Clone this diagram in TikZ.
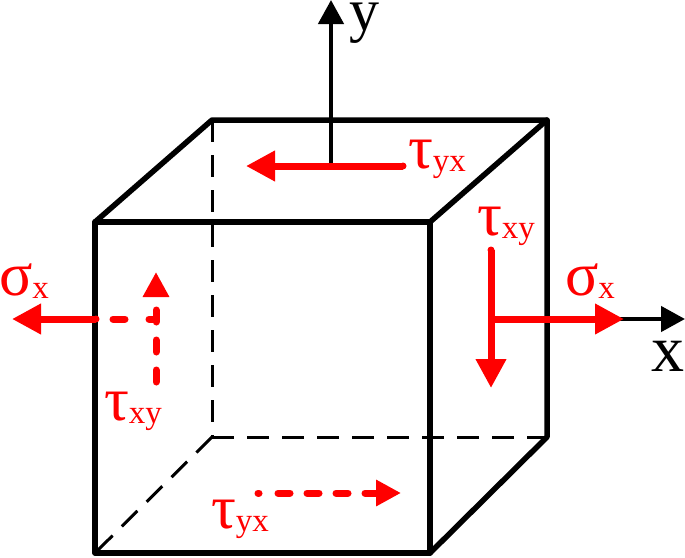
\documentclass[tikz,border=0pt]{standalone}
\usepackage{fontspec}
\setmainfont{Liberation Serif}
\usetikzlibrary{arrows.meta}
\newcommand{\stresslbl}[2]{\fontsize{62}{62}\selectfont #1\kern0pt\raisebox{-3pt}{\fontsize{33}{33}\selectfont #2}}
\tikzset{
  solidedge/.style={draw=black,line width=5.5pt,line join=round,line cap=round},
  hiddenedge/.style={draw=black,line width=3pt,dash pattern=on 22pt off 13pt},
  axisarrow/.style={draw=black,line width=4.5pt,-{Triangle[length=24pt,width=25pt,sep=0pt]}},
  stressarrow/.style={draw=red,line width=7pt,line cap=butt,-{Triangle[length=29pt,width=29pt]}},
  lbl/.style={anchor=base west,inner sep=0pt,outer sep=0pt,text=red},
  axislbl/.style={anchor=base west,inner sep=0pt,outer sep=0pt,text=black}
}
\begin{document}
\begin{tikzpicture}[x=1pt,y=-1pt]
\useasboundingbox (0,0) rectangle (685,557);
% corners
\coordinate (A) at (95,222);
\coordinate (B) at (430,222);
\coordinate (C) at (430,553);
\coordinate (D) at (95,553);
\coordinate (E) at (212,120);
\coordinate (F) at (547,120);
\coordinate (G) at (547,437);
\coordinate (H) at (212,437);
% hidden edges
\draw[hiddenedge] (E) -- (H);
\draw[hiddenedge] (H) -- (G);
\draw[hiddenedge] (H) -- (D);
% axes
\coordinate (yorig) at (331,164);
\coordinate (ytip) at (331,0);
\coordinate (xorig) at (610,319);
\coordinate (xtip) at (685,319);
\draw[axisarrow] (yorig) -- (ytip);
\draw[axisarrow] (xorig) -- (xtip);
% cube
\draw[solidedge] (A) -- (B) -- (C) -- (D) -- cycle;
\draw[solidedge] (A) -- (E) -- (F) -- (B);
\draw[solidedge] (F) -- (G) -- (C);
% solid stress arrows
\coordinate (sxr0) at (491,319);
\coordinate (sxr1) at (624,319);
\coordinate (txr0) at (491,250);
\coordinate (txr1) at (491,388);
\coordinate (sxl0) at (96,319);
\coordinate (sxl1) at (12,319);
\coordinate (tyt0) at (403,166);
\coordinate (tyt1) at (246,166);
\draw[stressarrow] (sxr0) -- (sxr1);
\draw[stressarrow] (txr0) -- (txr1);
\draw[stressarrow] (sxl0) -- (sxl1);
\draw[stressarrow] (tyt0) -- (tyt1);
\fill[red] (txr0) circle (3.5pt) (sxl0) circle (3.5pt) (tyt0) circle (3.5pt);
% hidden shear arrows
\coordinate (txl0) at (156,382);
\coordinate (txl1) at (156,272);
\coordinate (txlc) at (156,319);
\coordinate (txls) at (113,319);
\coordinate (tyb0) at (258,493);
\coordinate (tyb1) at (401,493);
\draw[draw=red,line width=7pt,line cap=round,dash pattern=on 12pt off 18pt,-{Triangle[length=25pt,width=25pt]}] (txl0) -- (txl1);
\draw[draw=red,line width=7pt,line cap=round,dash pattern=on 12pt off 24pt] (txls) -- (txlc);
\draw[draw=red,line width=7pt,line cap=round,dash pattern=on 1pt off 19pt on 12pt off 17pt on 12pt off 17pt on 12pt off 17pt on 14pt off 40pt,-{Triangle[length=25pt,width=25pt]}] (tyb0) -- (tyb1);
% labels
\node[lbl] (ltyt) at (408,168) {\stresslbl{τ}{yx}};
\node[lbl] (lsl) at (-1,295) {\stresslbl{σ}{x}};
\node[lbl] (ltr) at (477,235) {\stresslbl{τ}{xy}};
\node[lbl] (lsr) at (565,295) {\stresslbl{σ}{x}};
\node[lbl] (ltl) at (104,420) {\stresslbl{τ}{xy}};
\node[lbl] (ltb) at (211,528) {\stresslbl{τ}{yx}};
\node[axislbl,font=\fontsize{60}{60}\selectfont] (ly) at (349,30) {y};
\node[axislbl,font=\fontsize{66}{66}\selectfont] (lx) at (651,371) {x};
\end{tikzpicture}
\end{document}
